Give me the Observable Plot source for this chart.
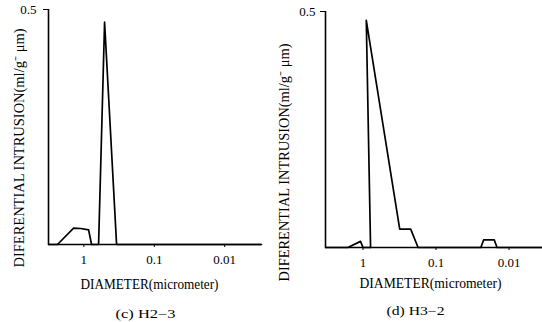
<!DOCTYPE html>
<html><head><meta charset="utf-8">
<script src="https://cdn.jsdelivr.net/npm/d3@7"></script>
<script src="https://cdn.jsdelivr.net/npm/@observablehq/plot@0.6"></script>
<style>
body{margin:0;background:#fff}
#wrap{position:relative;width:542px;height:322px;overflow:hidden}
#wrap>svg{position:absolute;top:0}
</style>
</head><body><div id="wrap"></div>
<script>
// Tick values and labels
const xTicks = [1, 0.1, 0.01];
const xTickLabels = ["1", "0.1", "0.01"];
const yTicks = [0.5];
const yTickLabels = ["0.5"];
const yDomain = [0, 0.5];

// Panel (c) H2-3  (diameter in micrometer, differential intrusion)
const diamC = [3.18, 2.37, 1.40, 1.11, 0.857, 0.777, 0.618, 0.508, 0.343, 0.003];
const valC  = [0, 0, 0.035, 0.034, 0.031, 0, 0, 0.473, 0, 0];
const xDomainC = [0.003, 3.18];

// Panel (d) H3-2
const diamD = [3.26, 1.61, 1.08, 1.0, 0.787, 0.901, 0.314, 0.222, 0.176, 0.0243, 0.0223, 0.0159, 0.0146, 0.00348];
const valD  = [0, 0, 0.013, 0, 0, 0.481, 0.039, 0.039, 0, 0, 0.016, 0.016, 0, 0];
const xDomainD = [0.00348, 3.26];

const yLabel = "DIFERENTIAL INTRUSION(ml/g⁻ μm)";
const xLabel = "DIAMETER(micrometer)";
const captions = ["(c) H2−3", "(d) H3−2"];

function panel(o) {
  const data = o.diam.map((d, i) => ({d, v: o.val[i]}));
  const fmtX = d => xTickLabels[xTicks.indexOf(d)];
  const fmtY = d => yTickLabels[yTicks.indexOf(d)];
  const svg = Plot.plot({
    width: 271, height: 322,
    marginLeft: o.ml, marginRight: o.mr, marginTop: o.mt, marginBottom: o.mb,
    style: {fontFamily: "'Liberation Serif', serif", color: "#000", background: "transparent"},
    x: {type: "log", domain: o.domain, reverse: true},
    y: {domain: yDomain},
    marks: [
      Plot.ruleX([o.domain[1]], {y1: yDomain[0], y2: yDomain[1], stroke: "#000", strokeWidth: 1.6}),
      Plot.ruleY([0], {stroke: "#000", strokeWidth: 1.3}),
      Plot.line(data, {x: "d", y: "v", stroke: "#000", strokeWidth: 1.7}),
      Plot.axisX({ticks: xTicks, tickSize: 3, tickPadding: 7, tickFormat: fmtX, fontSize: 13, label: null}),
      Plot.axisY({ticks: yTicks, tickSize: 5, tickPadding: o.ytp, tickFormat: fmtY, fontSize: 13, label: null}),
      Plot.text([yLabel], {text: d => d, frameAnchor: "left", textAnchor: "middle", lineAnchor: "middle", rotate: -90, dx: o.ylDx, dy: o.ylDy, fontSize: 14, fill: "#000"}),
      Plot.text([xLabel], {text: d => d, frameAnchor: "bottom", textAnchor: "middle", lineAnchor: "middle", dx: o.xlDx, dy: o.xlDy, fontSize: 14, fill: "#000"}),
      Plot.text([o.caption], {text: d => d, frameAnchor: "bottom", textAnchor: "middle", lineAnchor: "middle", dx: o.capDx, dy: o.capDy, fontSize: 12, fill: "#000"})
    ]
  });
  d3.select(svg).selectAll("text").each(function() {
    const t = this.textContent;
    if (o.lengths[t]) d3.select(this).attr("textLength", o.lengths[t]).attr("lengthAdjust", "spacingAndGlyphs");
  });
  svg.style.left = o.left + "px";
  return svg;
}

const wrap = document.getElementById("wrap");
wrap.appendChild(panel({
  diam: diamC, val: valC, domain: xDomainC, left: 0,
  ml: 48, mr: 10, mt: 9, mb: 78, ytp: 7,
  ylDx: -29, ylDy: 21, xlDx: -5.5, xlDy: 40, capDx: -9.5, capDy: 70,
  caption: captions[0],
  lengths: {[yLabel]: 239, [xLabel]: 138, [captions[0]]: 60}
}));
wrap.appendChild(panel({
  diam: diamD, val: valD, domain: xDomainD, left: 271,
  ml: 54, mr: 0, mt: 11, mb: 75, ytp: 5,
  ylDx: -41, ylDy: 33, xlDx: -3.5, xlDy: 36, capDx: -18.5, capDy: 64,
  caption: captions[1],
  lengths: {[yLabel]: 238, [xLabel]: 142, [captions[1]]: 58}
}));
</script></body></html>
